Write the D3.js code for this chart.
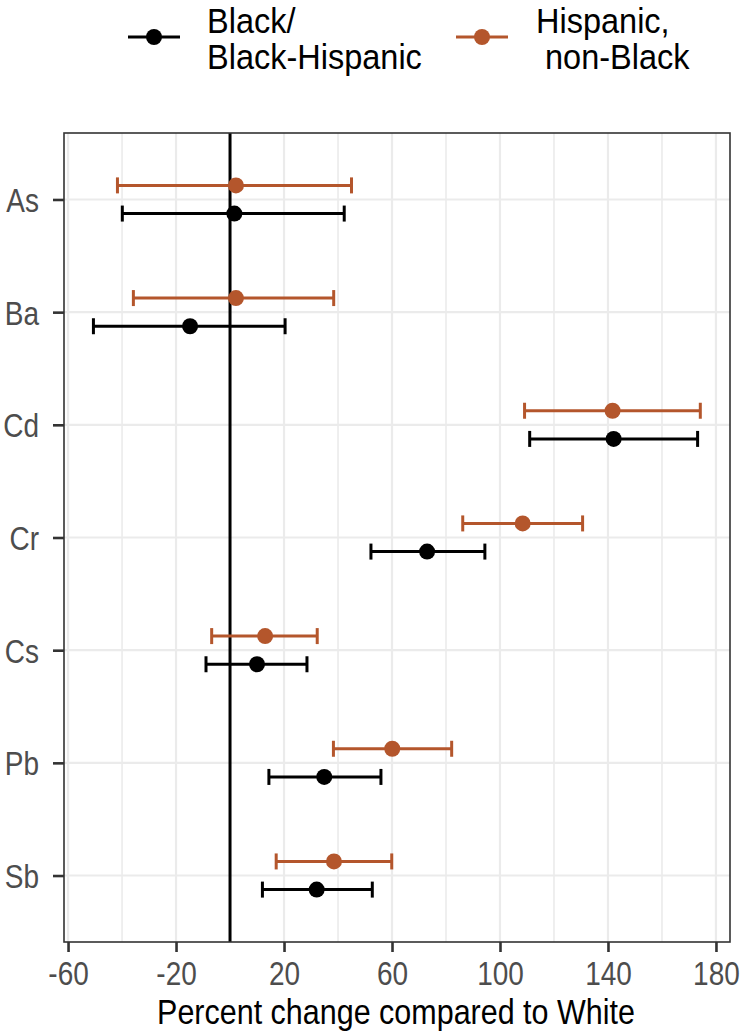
<!DOCTYPE html>
<html><head><meta charset="utf-8">
<script src="https://cdn.jsdelivr.net/npm/d3@7"></script>
<style>body{margin:0;background:#fff}svg{display:block}text{font-family:"Liberation Sans",Arial,sans-serif}</style>
</head><body><svg id="c" width="747" height="1035"></svg>
<script>
const metals = ["As","Ba","Cd","Cr","Cs","Pb","Sb"];
const groups = ["Black/\nBlack-Hispanic","Hispanic,\n non-Black"];
const blackEst = [1.6, -14.8, 142.1, 73.0, 10.0, 34.9, 32.1];
const blackLo  = [-39.9, -50.6, 111.0, 52.2, -8.9, 14.4, 12.0];
const blackHi  = [42.3, 20.4, 173.2, 94.4, 28.5, 55.9, 52.7];
const hispEst  = [2.2, 2.2, 141.7, 108.4, 13.0, 60.1, 38.5];
const hispLo   = [-41.7, -35.8, 109.1, 86.2, -6.8, 38.3, 17.1];
const hispHi   = [45.0, 38.4, 174.2, 130.6, 32.3, 82.1, 59.9];
const xTicks = [-60,-20,20,60,100,140,180];
const xMinor = [-40,0,40,80,120,160];
const xTitle = "Percent change compared to White";
const colors = ["#000000","#b4562c"];

const svg = d3.select("#c");
const L=64,R=730,T=133,B=942;
const SY=1.18, SYL=1.08;
const x = d3.scaleLinear().domain([-61.5,185.2]).range([L,R]);
const y = d3.scalePoint().domain(metals).range([T,B]).padding(0.59);
const dodge = d3.scaleOrdinal().domain([0,1]).range([0.125,-0.125]);

// grid
const g = svg.append("g");
g.selectAll(".gmin").data(xMinor).join("line").attr("x1",d=>x(d)).attr("x2",d=>x(d)).attr("y1",T).attr("y2",B).attr("stroke","#ebebeb").attr("stroke-width",1.6);
g.selectAll(".gmaj").data(xTicks).join("line").attr("x1",d=>x(d)).attr("x2",d=>x(d)).attr("y1",T).attr("y2",B).attr("stroke","#ebebeb").attr("stroke-width",2.2);
g.selectAll(".gy").data(metals).join("line").attr("x1",L).attr("x2",R).attr("y1",d=>y(d)).attr("y2",d=>y(d)).attr("stroke","#ebebeb").attr("stroke-width",2.2);

// zero line
svg.append("line").attr("x1",x(0)).attr("x2",x(0)).attr("y1",T).attr("y2",B).attr("stroke","#000").attr("stroke-width",3);

// data
const series = [
  {est:blackEst,lo:blackLo,hi:blackHi},
  {est:hispEst,lo:hispLo,hi:hispHi}
];
const cap = 8;
series.forEach((s,gi)=>{
  const rows = metals.map((m,i)=>({m,est:s.est[i],lo:s.lo[i],hi:s.hi[i],yy:y(m)+dodge(gi)*y.step()}));
  const sg = svg.append("g").attr("stroke",colors[gi]).attr("fill",colors[gi]);
  sg.selectAll(".h").data(rows).join("line").attr("x1",d=>x(d.lo)).attr("x2",d=>x(d.hi)).attr("y1",d=>d.yy).attr("y2",d=>d.yy).attr("stroke-width",3);
  sg.selectAll(".cl").data(rows).join("line").attr("x1",d=>x(d.lo)).attr("x2",d=>x(d.lo)).attr("y1",d=>d.yy-cap).attr("y2",d=>d.yy+cap).attr("stroke-width",3);
  sg.selectAll(".ch").data(rows).join("line").attr("x1",d=>x(d.hi)).attr("x2",d=>x(d.hi)).attr("y1",d=>d.yy-cap).attr("y2",d=>d.yy+cap).attr("stroke-width",3);
  sg.selectAll("circle").data(rows).join("circle").attr("cx",d=>x(d.est)).attr("cy",d=>d.yy).attr("r",8).attr("stroke","none");
});

// border
svg.append("rect").attr("x",L).attr("y",T).attr("width",R-L).attr("height",B-T).attr("fill","none").attr("stroke","#333").attr("stroke-width",1.6);

// axes (ticks via d3 axes, labels re-set with vertical stretch)
const xa = svg.append("g").attr("transform",`translate(0,${B})`).call(d3.axisBottom(x).tickValues(xTicks).tickSize(10).tickFormat(d3.format("d")));
const ya = svg.append("g").attr("transform",`translate(${L},0)`).call(d3.axisLeft(y).tickSize(11));
[xa,ya].forEach(a=>{
  a.select(".domain").remove();
  a.selectAll(".tick line").attr("stroke","#333").attr("stroke-width",2.6);
  a.selectAll(".tick text").remove();
});
xa.selectAll(".tick").append("text")
  .attr("transform",`translate(0,${985-B}) scale(1,${SY})`)
  .attr("text-anchor","middle").attr("fill","#4d4d4d").style("font-size","28px")
  .text(d=>String(d));
ya.selectAll(".tick").append("text")
  .attr("transform",`translate(-25,12) scale(1,${SY})`)
  .attr("text-anchor","end").attr("fill","#4d4d4d").style("font-size","28px")
  .text(d=>d);
svg.append("text").attr("transform",`translate(${(L+R)/2-1},1024) scale(1,${SY})`).attr("text-anchor","middle").style("font-size","30.5px").attr("fill","#000").text(xTitle);

// legend
const keyX=[128,456], textX=[207,536];
groups.forEach((gname,i)=>{
  const lg = svg.append("g");
  lg.append("line").attr("x1",keyX[i]).attr("x2",keyX[i]+52).attr("y1",37).attr("y2",37).attr("stroke",colors[i]).attr("stroke-width",3);
  lg.append("circle").attr("cx",keyX[i]+26).attr("cy",37).attr("r",8).attr("fill",colors[i]);
  gname.split("\n").forEach((ln,j)=>{
    lg.append("text").attr("transform",`translate(${textX[i]},${33+j*36}) scale(1,${SYL})`)
      .style("font-size","32.5px").attr("fill","#000").text(ln.replace(/^ /,"\u00a0"));
  });
});
</script></body></html>
